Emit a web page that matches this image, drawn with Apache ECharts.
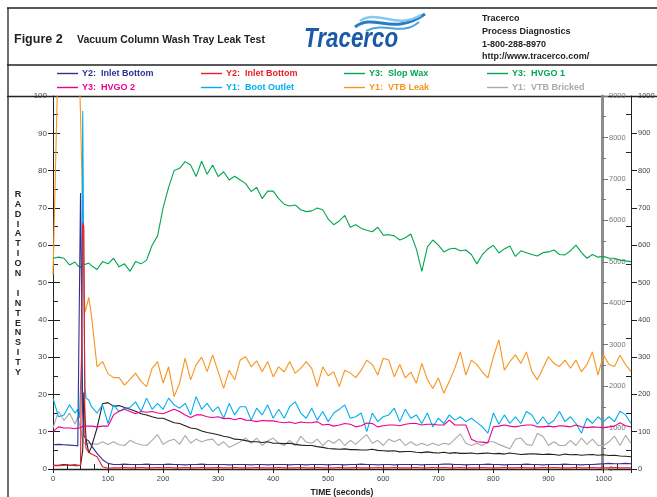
<!DOCTYPE html>
<html><head><meta charset="utf-8">
<script src="https://cdn.jsdelivr.net/npm/echarts@6/dist/echarts.min.js"></script>
<style>html,body{margin:0;padding:0;background:#fff}#c{width:657px;height:497px}</style>
</head><body><div id="c"></div>
<script>
// Time (seconds)
const times = [0,10,20,30,40,45,48,50,52,54,56,58,60,65,70,
80,90,
100,110,120,130,140,150,160,170,180,190,
200,210,220,230,240,250,260,270,280,290,
300,310,320,330,340,350,360,370,380,390,
400,410,420,430,440,450,460,470,480,490,
500,510,520,530,540,550,560,570,580,590,
600,610,620,630,640,650,660,670,680,690,
700,710,720,730,740,750,760,770,780,790,
800,810,820,830,840,850,860,870,880,890,
900,910,920,930,940,950,960,970,980,990,
1000,1010,1020,1030,1040,1050];

// Y2 (0-1000): Inlet Bottom (navy)
const inletBottomNavy = [65,66,65,64,63,62,63,740,735,150,90,85,80,75,62,
42,25,
15,12,12,13,12,12,12,13,12,12,
12,13,12,12,11,12,12,13,12,12,
12,12,11,12,12,12,11,12,12,11,
12,12,12,11,12,12,11,12,12,12,
11,12,12,11,12,12,13,12,12,11,
12,12,11,12,12,12,12,11,12,12,
12,13,13,12,12,11,12,12,12,13,
12,12,11,12,12,12,13,12,12,11,
12,12,12,13,12,12,11,12,12,13,
14,15,14,14,15,14];

// Y2 (0-1000): Inlet Bottom (red)
const inletBottomRed = [9,9,10,10,9,9,10,10,12,660,650,100,55,45,40,
33,6,
2,3,3,4,3,3,4,3,3,4,
3,4,3,3,4,3,3,4,3,3,
4,3,3,4,3,3,3,4,3,3,
3,4,3,3,3,4,3,3,4,3,
3,3,4,3,3,4,3,3,3,4,
3,3,4,3,3,3,4,3,3,4,
3,4,3,3,4,3,3,3,4,3,
3,3,4,3,3,4,3,3,3,4,
3,4,3,3,3,4,3,3,4,3,
3,3,4,3,3,3];

// Y3 (0-9000): Slop Wax
const slopWax = [5085,5112,5085,4923,4995,4905,4887,4860,4905,4950,4977,4932,4950,4968,4905,
4815,5004,
4950,5085,4878,4950,4770,5004,4950,5040,5400,5625,
6300,6795,7200,7254,7416,7335,7056,7425,7110,7335,
7056,7173,6975,7065,6975,6885,6696,6795,6525,6705,
6705,6525,6390,6345,6372,6255,6210,6228,6300,6255,
6030,5895,5985,6120,5832,5895,5805,5760,5724,5832,
5643,5652,5625,5526,5580,5670,5310,4770,5355,5526,
5400,5238,5310,5328,5265,5283,5175,4950,5175,5310,
5400,5211,5310,5382,5130,5265,5220,5175,5139,5220,
5238,5283,5175,5166,5265,5400,5220,5085,5175,5112,
5130,5085,5085,5040,5022,5004];

// Y3 (0-9000): HVGO 1 (not visible in the picture)
const hvgo1 = [];

// Y3 (0-9000): HVGO 2
const hvgo2 = [900,1017,990,990,972,990,990,990,990,1035,1035,1035,1035,1035,1035,
1017,1035,
1035,1305,1395,1440,1386,1332,1386,1368,1386,1350,
1332,1386,1440,1386,1305,1242,1305,1305,1260,1242,
1260,1215,1224,1188,1224,1179,1170,1143,1170,1161,
1161,1134,1116,1134,1098,1134,1116,1116,1143,1062,
1080,1035,1062,1098,1080,1017,1044,1107,1098,1017,
1044,1062,1062,1044,1080,1098,1098,1062,1080,1080,
1062,1062,1179,1062,1062,1062,720,657,648,630,
1017,1035,1062,1035,1017,1044,1062,1062,1017,1017,
1035,1017,1044,1035,1017,1062,1017,999,1017,1008,
999,1017,1035,1116,1044,1017];

// Y1 (0-100): Boot Outlet
const bootOutlet = [19,14,14.5,17.2,15,16,13.7,14,30,96,50,22,19,18.5,16.7,
15,17.2,
12.2,17.2,15.4,16.3,16.5,18,15.4,19,16,17.6,
16,19,17.2,16.3,17.6,14.5,19.4,16,17.6,15.4,
16.7,13.6,17.6,14.5,16.7,16.7,13.1,16.3,14.5,17.2,
13.6,16,13.6,16.7,18,15,13.6,16.3,13.1,15.4,
12.7,15,16,17.2,13.6,14,15,10,15,12.7,
14,14.5,16.3,12.7,16,13.6,14.5,12.2,15,11.3,
13.6,12.2,14.5,13.1,14,12.7,13.6,12.5,11.3,9.6,
15,12,14.5,12.2,14,12.2,15.4,14.5,12,14,
12,13,15.4,12.7,14,12.2,9.6,13.6,12.2,14,
12.7,14,12.7,15.5,14.5,12.2];

// Y1 (0-100): VTB Leak
const vtbLeak = [52,115,115,115,115,115,105,95,82,68,52,42,43,46,41,
27.4,28.8,
25.5,24.5,24.5,22.5,24,25.7,23.5,22.1,27,28.8,
23,27.4,19.4,23,29.7,23.9,27.9,30,26.1,30.6,
26.1,21.6,26.5,23.9,29.2,30.1,27.4,29,26.1,28.8,
24.7,27.4,26,28.8,25.7,27,28.8,27,22.1,27.4,
25,26.1,22.1,26.5,25.7,24.5,26.5,29.2,28,25.2,
29.7,29.2,24.7,28,24.4,26,23,28.3,24,21.6,
24.4,20.3,23.5,27,31.4,25.2,29.2,28,26,24.4,
30.1,34.6,26.5,28.8,30.6,28.3,31.4,26.1,23.9,27,
30.1,28.3,27.5,29.2,27,29.2,26.1,28,31.4,25.2,
30.6,28,27.5,30.5,28,26.1];

// Y1 (0-100): VTB Bricked
const vtbBricked = [11,15.5,13,15,12,14,12,11,9,8,7,6.5,6.5,7,6.8,
6.6,7.3,
6.6,7.3,6.5,6.3,7.7,6.9,6.5,6.3,7.7,9.2,
6.6,7.5,8,6.6,9,6.9,8,7.3,7.8,8,
6.3,7.3,5.8,6.5,7.3,8.3,6.9,8.3,6.3,7.5,
8.3,6.9,6.3,7.7,6.3,8.8,7.2,6.9,8,6.3,
7.7,6.9,8,6.3,7.7,6.6,8,9.2,6.9,7.7,
6.3,8,7.3,8,6.3,7.3,6.3,6.9,6.3,6.9,
6.3,6.9,6.6,8,9.4,6.9,6.3,6.9,6.3,7.3,
7.3,6.6,6,5.4,8,8.3,6.6,6.3,9.5,8.8,
6.3,7.3,6.3,6.3,7.7,6.3,8.3,6.6,8,6.3,
6.3,7.3,8.8,6.3,9,6.9];

// Y1 (0-100): unlabelled black trace
const blackTrace = [1,1,1.2,1,1.1,1,1,1,1.2,5,20.5,14,8,4.3,6,
11,17.5,
17.8,16.8,17,16.5,16,15.5,14.8,14.5,14,13.6,
13.6,13,12.4,12.2,11.6,11,10.8,10.2,9.8,9.5,
9.2,8.8,8.5,8,7.9,7.6,7.3,7.3,7.1,7.3,
6.9,6.9,6.8,6.9,6.6,6.4,6.3,6.3,6,5.8,
5.5,5.4,5.3,5.4,5.2,5.2,5.1,5.1,5.3,5,
4.9,4.8,4.9,4.6,4.7,4.7,4.5,4.4,4.6,4.4,
4.3,4.5,4.2,4.4,4.2,4.2,4.3,4.1,4.2,4.3,
4.1,4.2,4,4.3,4.1,3.9,4,4.1,4,3.9,
4,3.9,3.7,4,3.8,3.9,3.7,3.8,3.9,3.7,
3.8,3.6,3.7,3.5,3.4,3.3];

const legendCols = [
  [['Y2:  Inlet Bottom', '#2e3192'], ['Y3:  HVGO 2', '#ec008c']],
  [['Y2:  Inlet Bottom ', '#ed1c24'], ['Y1:  Boot Outlet', '#00aeef']],
  [['Y3:  Slop Wax', '#00a651'], ['Y1:  VTB Leak', '#f7941d']],
  [['Y3:  HVGO 1', '#00a651'], ['Y1:  VTB Bricked', '#aaaaaa']]
];
const legendX = [57, 201, 344, 487];

const F = '"Liberation Sans", Arial, Helvetica, sans-serif';
function pairs(vals) { return vals.map((v, i) => [times[i], v]); }
function line(name, vals, color, yIdx) {
  return { name: name, type: 'line', xAxisIndex: 0, yAxisIndex: yIdx, data: pairs(vals),
    showSymbol: false, symbol: 'none', color: color, lineStyle: { width: 1.1, color: color },
    emphasis: { disabled: true }, silent: true, clip: true };
}
const plain = v => String(v);

const tickColor = '#222';
const chart = echarts.init(document.getElementById('c'));
const option = {
  animation: false,
  backgroundColor: '#ffffff',
  textStyle: { fontFamily: F },
  grid: { left: 53, right: 26, top: 96, bottom: 28, containLabel: false, outerBoundsMode: 'none' },
  legend: legendCols.map((col, i) => ({
    left: legendX[i], top: 68, orient: 'vertical', itemGap: 3, itemWidth: 21, itemHeight: 1.4,
    icon: 'rect', selectedMode: false, padding: 0,
    textStyle: { fontSize: 9, fontWeight: 'bold', lineHeight: 11, fontFamily: F, padding: [0, 0, 0, -1] },
    data: col.map(c => ({ name: c[0], textStyle: { color: c[1] } }))
  })),
  xAxis: [
    { type: 'value', position: 'bottom', min: 0, max: 1050, interval: 100,
      name: 'TIME (seconds)', nameLocation: 'middle', nameGap: 18,
      nameTextStyle: { fontSize: 8.5, fontWeight: 'bold', color: '#222', fontFamily: F },
      axisLine: { show: true, onZero: false, lineStyle: { color: tickColor, width: 1.3 } },
      axisTick: { show: true, length: 4, lineStyle: { color: tickColor } },
      axisLabel: { fontSize: 7.5, color: '#444', margin: 6, fontFamily: F,
        formatter: v => (v % 100 === 0 ? String(v) : '') },
      splitLine: { show: false } },
    { type: 'value', position: 'bottom', min: 0, max: 1050, interval: 100,
      axisLine: { show: false, onZero: false },
      axisTick: { show: true, inside: true, length: 5, lineStyle: { color: tickColor } },
      minorTick: { show: true, splitNumber: 4, length: 5, lineStyle: { color: tickColor } },
      axisLabel: { show: false }, splitLine: { show: false } }
  ],
  yAxis: [
    { type: 'value', position: 'left', min: 0, max: 100, interval: 10,
      axisLine: { show: true, onZero: false, lineStyle: { color: tickColor, width: 1 } },
      axisTick: { show: true, length: 5, lineStyle: { color: tickColor } },
      axisLabel: { fontSize: 8, color: '#444', margin: 6, fontFamily: F, formatter: plain },
      splitLine: { show: false } },
    { type: 'value', position: 'left', min: 0, max: 100, interval: 10,
      axisLine: { show: false, onZero: false },
      axisTick: { show: true, inside: true, length: 7, lineStyle: { color: tickColor } },
      minorTick: { show: true, splitNumber: 2, length: 5, lineStyle: { color: tickColor } },
      axisLabel: { show: false }, splitLine: { show: false } },
    { type: 'value', position: 'right', offset: -29, min: 0, max: 9000, interval: 1000,
      axisLine: { show: true, onZero: false, lineStyle: { color: '#8c8c8c', width: 3 } },
      axisTick: { show: true, length: 6, lineStyle: { color: '#777' } },
      minorTick: { show: true, splitNumber: 2, length: 4, lineStyle: { color: '#777' } },
      axisLabel: { fontSize: 7.5, color: '#777', margin: 7, fontFamily: F, formatter: plain },
      splitLine: { show: false } },
    { type: 'value', position: 'right', offset: 0, min: 0, max: 1000, interval: 100,
      axisLine: { show: true, onZero: false, lineStyle: { color: tickColor, width: 1 } },
      axisTick: { show: true, length: 6, lineStyle: { color: tickColor } },
      axisLabel: { fontSize: 7.5, color: '#444', margin: 7, fontFamily: F, formatter: plain },
      splitLine: { show: false } },
    { type: 'value', position: 'right', offset: 0, min: 0, max: 1000, interval: 100,
      axisLine: { show: false, onZero: false },
      axisTick: { show: false, inside: true },
      minorTick: { show: true, splitNumber: 2, length: 5, lineStyle: { color: tickColor } },
      axisLabel: { show: false }, splitLine: { show: false } }
  ],
  series: [
    line('Y1:  VTB Bricked', vtbBricked, '#aaaaaa', 0),
    line('Black trace', blackTrace, '#231f20', 0),
    line('Y1:  VTB Leak', vtbLeak, '#f7941d', 0),
    line('Y1:  Boot Outlet', bootOutlet, '#00aeef', 0),
    line('Y3:  HVGO 2', hvgo2, '#ec008c', 2),
    line('Y3:  Slop Wax', slopWax, '#00a651', 2),
    line('Y3:  HVGO 1', hvgo1, '#00a651', 2),
    line('Y2:  Inlet Bottom', inletBottomNavy, '#2e3192', 3),
    line('Y2:  Inlet Bottom ', inletBottomRed, '#ed1c24', 3)
  ],
  graphic: { elements: [
    { type: 'line', shape: { x1: 7, y1: 8, x2: 657, y2: 8 }, style: { stroke: '#222', lineWidth: 1.3 }, silent: true },
    { type: 'line', shape: { x1: 7, y1: 65, x2: 657, y2: 65 }, style: { stroke: '#222', lineWidth: 1.3 }, silent: true },
    { type: 'line', shape: { x1: 7, y1: 96.5, x2: 657, y2: 96.5 }, style: { stroke: '#222', lineWidth: 1.3 }, silent: true },
    { type: 'line', shape: { x1: 8, y1: 8, x2: 8, y2: 497 }, style: { stroke: '#222', lineWidth: 1.3 }, silent: true },
    { type: 'text', x: 14, y: 40, silent: true,
      style: { text: 'Figure 2', font: 'bold 12.5px ' + F, fill: '#222', textVerticalAlign: 'middle' } },
    { type: 'text', x: 77, y: 40, silent: true,
      style: { text: 'Vacuum Column Wash Tray Leak Test', font: 'bold 10.5px ' + F, fill: '#222', textVerticalAlign: 'middle' } },
    { type: 'bezierCurve', silent: true, shape: { x1: 355, y1: 27, cpx1: 374, cpy1: 12, cpx2: 392, cpy2: 37, x2: 425, y2: 14 },
      style: { stroke: '#2a7cc3', lineWidth: 3, fill: null } },
    { type: 'bezierCurve', silent: true, shape: { x1: 360, y1: 21, cpx1: 378, cpy1: 9, cpx2: 396, cpy2: 30, x2: 421, y2: 15 },
      style: { stroke: '#86c8ee', lineWidth: 2.5, fill: null } },
    { type: 'bezierCurve', silent: true, shape: { x1: 366, y1: 31, cpx1: 386, cpy1: 21, cpx2: 401, cpy2: 37, x2: 419, y2: 22 },
      style: { stroke: '#4da3dd', lineWidth: 2, fill: null } },
    { type: 'text', x: 304, y: 39, scaleX: 0.8, silent: true,
      style: { text: 'Tracerco', font: 'italic bold 28px ' + F, fill: '#1b5aa7', textVerticalAlign: 'middle' } },
    { type: 'text', x: 482, y: 19, silent: true, style: { text: 'Tracerco', font: 'bold 9px ' + F, fill: '#222', textVerticalAlign: 'middle' } },
    { type: 'text', x: 482, y: 32, silent: true, style: { text: 'Process Diagnostics', font: 'bold 9px ' + F, fill: '#222', textVerticalAlign: 'middle' } },
    { type: 'text', x: 482, y: 44.5, silent: true, style: { text: '1-800-288-8970', font: 'bold 9px ' + F, fill: '#222', textVerticalAlign: 'middle' } },
    { type: 'text', x: 482, y: 57, silent: true, style: { text: 'http://www.tracerco.com/', font: 'bold 9px ' + F, fill: '#222', textVerticalAlign: 'middle' } },
    { type: 'text', x: 18, y: 283.5, silent: true,
      style: { text: 'R\nA\nD\nI\nA\nT\nI\nO\nN\n\nI\nN\nT\nE\nN\nS\nI\nT\nY', font: 'bold 9px ' + F,
        lineHeight: 9.9, fill: '#222', textAlign: 'center', textVerticalAlign: 'middle' } }
  ] }
};
chart.setOption(option);
</script></body></html>
